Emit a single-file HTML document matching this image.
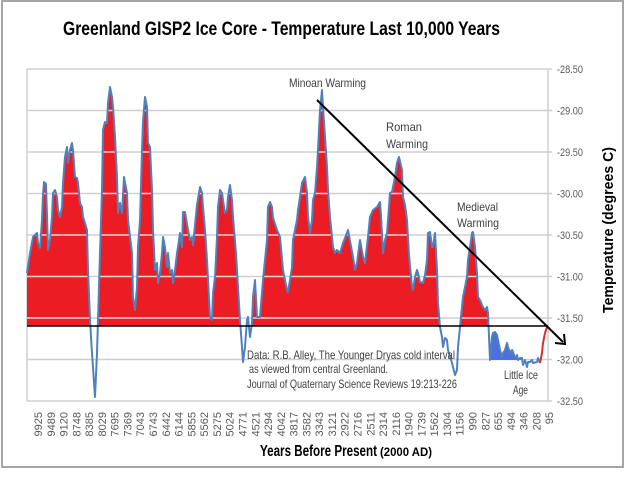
<!DOCTYPE html>
<html><head><meta charset="utf-8"><style>
html,body{margin:0;padding:0;background:#fff;}
svg{display:block;font-family:"Liberation Sans",sans-serif;}
</style></head><body>
<svg width="624" height="498" viewBox="0 0 624 498" xmlns="http://www.w3.org/2000/svg">
<defs>
<clipPath id="above"><rect x="27" y="60" width="522" height="266"/></clipPath>
<clipPath id="lia"><rect x="489" y="300" width="52" height="60"/></clipPath>
<clipPath id="redarea"><polygon id="rp" points=""/></clipPath>
</defs>
<rect x="0" y="0" width="624" height="498" fill="#fff"/>
<rect x="2" y="1" width="621" height="466" fill="none" stroke="#a6a6a6" stroke-width="2"/>

<text x="63" y="35" font-size="19" font-weight="bold" fill="#000" textLength="437" lengthAdjust="spacingAndGlyphs">Greenland GISP2 Ice Core - Temperature  Last 10,000 Years</text>

<g stroke="#cfcfcf" stroke-width="1.5" id="grid">
<line x1="27" y1="69" x2="552" y2="69"/>
<line x1="27" y1="110.5" x2="552" y2="110.5"/>
<line x1="27" y1="152" x2="552" y2="152"/>
<line x1="27" y1="193.5" x2="552" y2="193.5"/>
<line x1="27" y1="235" x2="552" y2="235"/>
<line x1="27" y1="276.5" x2="552" y2="276.5"/>
<line x1="27" y1="318" x2="552" y2="318"/>
<line x1="27" y1="359.5" x2="552" y2="359.5"/>
<line x1="27" y1="401" x2="552" y2="401"/>
<line x1="27" y1="69" x2="27" y2="401"/>
<line x1="548" y1="69" x2="548" y2="401"/>
</g>

<g id="plot"></g>

<line x1="27" y1="326" x2="548" y2="326" stroke="#000" stroke-width="1.6"/>

<line x1="317" y1="100" x2="563" y2="342" stroke="#000" stroke-width="2"/>
<polyline points="555,343 565,344 564,334" fill="none" stroke="#000" stroke-width="2"/>

<g fill="#404040" font-size="12">
<text x="289" y="87" textLength="77" lengthAdjust="spacingAndGlyphs">Minoan Warming</text>
<text x="386" y="131" textLength="36" lengthAdjust="spacingAndGlyphs">Roman</text>
<text x="386" y="148" textLength="42" lengthAdjust="spacingAndGlyphs">Warming</text>
<text x="457" y="211" textLength="41" lengthAdjust="spacingAndGlyphs">Medieval</text>
<text x="457" y="227" textLength="42" lengthAdjust="spacingAndGlyphs">Warming</text>
<text x="247" y="359" textLength="208" lengthAdjust="spacingAndGlyphs">Data: R.B. Alley,  The Younger Dryas cold interval</text>
<text x="249" y="373" textLength="139" lengthAdjust="spacingAndGlyphs">as viewed from central Greenland.</text>
<text x="247" y="388" textLength="210" lengthAdjust="spacingAndGlyphs">Journal of Quaternary  Science Reviews 19:213-226</text>
<text x="504" y="379" textLength="34" lengthAdjust="spacingAndGlyphs">Little Ice</text>
<text x="513" y="394" textLength="15" lengthAdjust="spacingAndGlyphs">Age</text>
</g>

<g fill="#595959" font-size="11">
<text x="557" y="73" textLength="26" lengthAdjust="spacingAndGlyphs">-28.50</text>
<text x="557" y="114.5" textLength="26" lengthAdjust="spacingAndGlyphs">-29.00</text>
<text x="557" y="156" textLength="26" lengthAdjust="spacingAndGlyphs">-29.50</text>
<text x="557" y="197.5" textLength="26" lengthAdjust="spacingAndGlyphs">-30.00</text>
<text x="557" y="239" textLength="26" lengthAdjust="spacingAndGlyphs">-30.50</text>
<text x="557" y="280.5" textLength="26" lengthAdjust="spacingAndGlyphs">-31.00</text>
<text x="557" y="322" textLength="26" lengthAdjust="spacingAndGlyphs">-31.50</text>
<text x="557" y="363.5" textLength="26" lengthAdjust="spacingAndGlyphs">-32.00</text>
<text x="557" y="405" textLength="26" lengthAdjust="spacingAndGlyphs">-32.50</text>
</g>

<text transform="translate(613,230) rotate(-90)" text-anchor="middle" font-size="15" font-weight="bold" fill="#000" textLength="166" lengthAdjust="spacingAndGlyphs">Temperature (degrees C)</text>

<g id="xl" fill="#595959" font-size="11"></g>

<text x="260" y="456" font-size="16" font-weight="bold" fill="#000" textLength="117" lengthAdjust="spacingAndGlyphs">Years Before Present</text>
<text x="380" y="456" font-size="12" font-weight="bold" fill="#000" textLength="52" lengthAdjust="spacingAndGlyphs">(2000 AD)</text>

<script>
(function(){
var NS="http://www.w3.org/2000/svg";
var pts=[[27,273],[30,253],[33,237],[37,233],[38,243],[40,248],[42,220],[43,195],[44,182],[46,184],[47,215],[48,250],[50,240],[52,217],[53,193],[55,190],[57,197],[58,210],[60,217],[62,207],[63,183],[65,157],[67,147],[68,163],[70,150],[72,143],[73,150],[75,177],[77,178],[78,183],[80,203],[82,207],[83,217],[85,223],[87,230],[88,270],[90,320],[92,353],[95,397],[97,353],[98,320],[100,253],[102,190],[103,130],[105,122],[107,123],[108,103],[110,87],[112,97],[113,107],[115,137],[117,177],[118,213],[120,203],[122,213],[124,177],[127,193],[128,220],[132,253],[133,297],[135,310],[137,287],[138,247],[140,220],[142,150],[143,122],[145,97],[147,107],[148,143],[150,147],[152,190],[153,230],[155,270],[157,263],[158,283],[160,273],[162,253],[163,237],[165,247],[167,267],[168,253],[170,273],[172,270],[173,283],[175,270],[177,253],[178,247],[180,233],[182,247],[183,212],[185,212],[188,230],[190,240],[192,237],[193,245],[197,205],[200,187],[202,193],[203,207],[205,230],[207,260],[210,317],[212,320],[213,293],[215,277],[217,237],[218,207],[220,190],[222,193],[223,200],[225,213],[227,210],[228,197],[230,185],[232,200],[233,217],[236,253],[238,287],[240,320],[242,347],[243,362],[245,347],[247,320],[248,317],[250,337],[252,323],[253,297],[255,280],[257,317],[260,317],[263,280],[267,240],[268,207],[270,202],[272,207],[273,218],[277,230],[280,237],[283,270],[287,290],[288,292],[290,280],[292,267],[293,240],[297,220],[298,210],[300,197],[302,183],[305,177],[307,193],[308,217],[310,233],[312,220],[313,200],[315,193],[317,167],[318,150],[320,110],[322,90],[323,107],[325,137],[327,167],[328,190],[330,217],[333,247],[335,253],[337,250],[340,253],[343,243],[347,233],[348,230],[353,257],[355,270],[357,263],[360,240],[363,257],[365,263],[368,237],[370,217],[373,210],[377,207],[380,202],[381,215],[383,253],[385,240],[387,233],[388,220],[390,193],[392,192],[395,177],[397,163],[399,157],[402,170],[403,197],[405,205],[407,220],[409,255],[412,287],[413,290],[415,277],[417,270],[418,273],[420,282],[423,283],[425,275],[427,260],[428,233],[430,232],[432,247],[433,247],[435,233],[437,270],[438,303],[440,327],[442,337],[443,347],[445,338],[447,340],[448,350],[452,363],[455,375],[457,370],[458,347],[460,327],[462,307],[463,297],[465,287],[467,277],[468,260],[470,247],[472,233],[473,232],[475,247],[477,273],[478,297],[480,300],[482,305],[483,307],[485,310],[487,307],[488,313],[490,360],[492,337],[493,333],[495,332],[497,335],[498,340],[500,350],[502,357],[503,353],[505,350],[507,343],[508,347],[510,353],[512,350],[513,352],[515,358],[517,355],[518,360],[520,358],[522,358],[523,365],[525,360],[527,367],[528,362],[530,362],[532,360],[533,363],[537,362],[538,358],[540,363],[542,353],[543,343],[545,333],[547,327],[548,326]];
function s(a){return a.map(function(p){return p[0]+","+p[1];}).join(" ");}
var g=document.getElementById("plot");
function el(t,at,par){var e=document.createElementNS(NS,t);for(var k in at)e.setAttribute(k,at[k]);(par||g).appendChild(e);return e;}
var redPts=s(pts)+" 548,326 27,326";
document.getElementById("rp").setAttribute("points",redPts);
el("polygon",{points:redPts,fill:"#ec1c24","clip-path":"url(#above)"});
var lia=pts.filter(function(p){return p[0]>=490&&p[0]<=541;});
el("polygon",{points:s(lia)+" 541,360 490,360",fill:"#4f6fe0","clip-path":"url(#lia)"});
var gg=el("g",{"clip-path":"url(#redarea)",stroke:"#f6d2d2","stroke-width":"1.5"});
var ch=el("g",{"clip-path":"url(#above)"},gg);
[110.5,152,193.5,235,276.5,318].forEach(function(y){el("line",{x1:27,x2:548,y1:y,y2:y},ch);});
var main=pts.filter(function(p){return p[0]<=540;});
el("polyline",{points:s(main),fill:"none",stroke:"#4f81bd","stroke-width":"2","stroke-linejoin":"round"});
var end=pts.filter(function(p){return p[0]>=540;});
el("polyline",{points:s(end),fill:"none",stroke:"#d8302f","stroke-width":"2"});
var labels=["9925","9489","9120","8748","8385","8029","7695","7369","7043","6743","6442","6144","5855","5562","5275","5024","4771","4521","4294","4042","3817","3582","3343","3121","2922","2716","2511","2314","2116","1940","1739","1562","1304","1156","990","827","655","494","346","208","95"];
var xl=document.getElementById("xl");
labels.forEach(function(t,i){var x=38+i*12.78;var e=el("text",{transform:"translate("+x.toFixed(1)+",412) rotate(-90)","text-anchor":"end",dy:"4"},xl);e.textContent=t;});
})();
</script>
</svg>
</body></html>
